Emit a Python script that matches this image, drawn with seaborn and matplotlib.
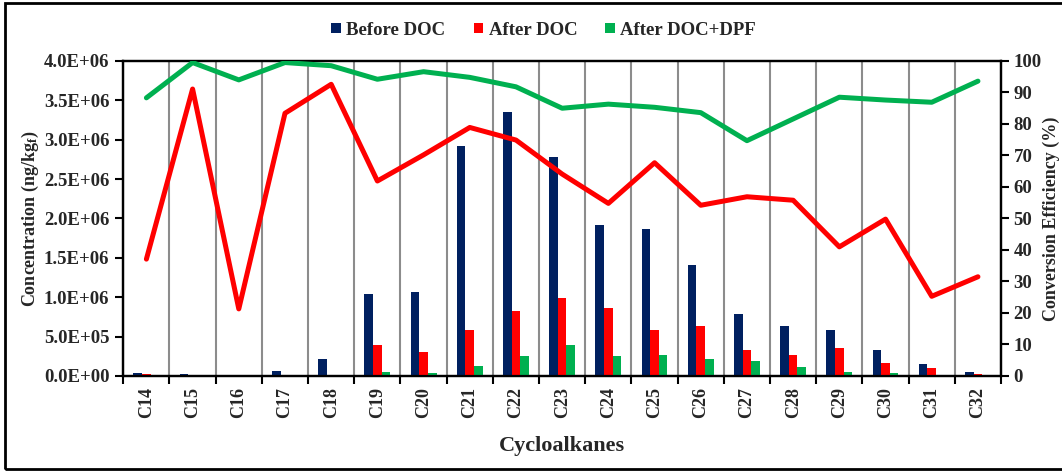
import numpy as np
import pandas as pd
import seaborn as sns
import matplotlib.pyplot as plt
from matplotlib.patches import Rectangle
from matplotlib.ticker import FixedLocator, FuncFormatter

# Dữ liệu
categories = ['C14', 'C15', 'C16', 'C17', 'C18', 'C19', 'C20', 'C21', 'C22', 'C23',
              'C24', 'C25', 'C26', 'C27', 'C28', 'C29', 'C30', 'C31', 'C32']
before_doc = [3.4e4, 2.0e4, 2.0e3, 6.3e4, 2.1e5, 1.04e6, 1.07e6, 2.92e6, 3.35e6, 2.78e6,
              1.92e6, 1.87e6, 1.41e6, 7.9e5, 6.4e5, 5.9e5, 3.3e5, 1.5e5, 4.5e4]
after_doc = [2.1e4, 2.0e3, 1.6e3, 1.0e4, 1.6e4, 3.9e5, 3.06e5, 5.8e5, 8.3e5, 9.9e5,
             8.66e5, 5.8e5, 6.4e5, 3.3e5, 2.7e5, 3.5e5, 1.6e5, 1.0e5, 3.0e4]
after_dpf = [4.0e3, 1.0e2, 1.0e2, 1.0e3, 3.0e3, 5.5e4, 3.5e4, 1.3e5, 2.5e5, 3.9e5,
             2.5e5, 2.65e5, 2.1e5, 1.9e5, 1.15e5, 5.5e4, 3.5e4, 1.5e4, 3.0e3]
eff_doc = [37.1, 91.1, 21.3, 83.4, 92.6, 61.9, 70.2, 78.9, 74.9, 64.1,
           54.8, 67.7, 54.2, 56.9, 55.8, 41.0, 49.8, 25.3, 31.5]
eff_dpf = [88.3, 99.5, 94.0, 99.5, 98.5, 94.2, 96.6, 94.8, 91.8, 85.0,
           86.3, 85.3, 83.6, 74.7, 81.6, 88.5, 87.6, 86.9, 93.6]

series_names = ['Before DOC', 'After DOC', 'After DOC+DPF']
colors = ['#002060', '#FF0000', '#00B050']

df = pd.DataFrame({
    'cat': categories * 3,
    'conc': before_doc + after_doc + after_dpf,
    'series': np.repeat(series_names, len(categories)),
})

sns.set_theme(style='white')
plt.rcParams['font.family'] = ['Liberation Serif', 'DejaVu Serif']
plt.rcParams['font.weight'] = 'bold'
plt.rcParams['mathtext.fontset'] = 'custom'
plt.rcParams['mathtext.rm'] = 'Liberation Serif:bold'
plt.rcParams['mathtext.it'] = 'Liberation Serif:bold'
plt.rcParams['mathtext.bf'] = 'Liberation Serif:bold'

fig = plt.figure(figsize=(10.62, 4.72), dpi=100)
ax = fig.add_axes([0.1161, 0.2034, 0.8265, 0.6674])

sns.barplot(data=df, x='cat', y='conc', hue='series', palette=colors,
            width=0.56, gap=0, ax=ax, zorder=3, saturation=1, linewidth=0)

n = len(categories)
ax.set_xlim(-0.5, n - 0.5)
ax.set_ylim(0, 4.0e6)
ax.set_yticks(np.arange(0, 4.01e6, 5e5))
ax.yaxis.set_major_formatter(FuncFormatter(lambda v, p: f'{v:.1E}'))

# đường kẻ dọc ở ranh giới các nhóm
ax.xaxis.set_minor_locator(FixedLocator(np.arange(-0.5, n, 1.0)))
ax.grid(which='minor', axis='x', color='#8c8c8c', linewidth=1.5, zorder=0)
ax.grid(which='major', visible=False)
ax.tick_params(axis='x', which='major', length=0, pad=8, labelsize=13, rotation=90)
ax.tick_params(axis='x', which='minor', length=6, width=1.5, color='black', direction='out', bottom=True)
ax.tick_params(axis='y', length=6, width=1.5, color='black', direction='out', left=True, labelsize=13.5, pad=4)
for lab in ax.get_xticklabels():
    lab.set_fontweight('bold')

for side in ['left', 'right', 'top', 'bottom']:
    ax.spines[side].set_color('black')
    ax.spines[side].set_linewidth(1.6)

ax.set_xlabel('Cycloalkanes', fontsize=16, fontweight='bold', labelpad=13)
ax.set_ylabel('Concentration (ng/kg$_\\mathrm{f}$)', fontsize=13, fontweight='bold', labelpad=2)

# trục phải - hiệu suất chuyển đổi
ax2 = ax.twinx()
x_pos = np.arange(n)
sns.lineplot(x=x_pos, y=eff_doc, color='#FF0000', linewidth=3.6, ax=ax2, zorder=5)
sns.lineplot(x=x_pos, y=eff_dpf, color='#00B050', linewidth=3.6, ax=ax2, zorder=5)
ax2.set_ylim(0, 100)
ax2.set_yticks(np.arange(0, 101, 10))
ax2.tick_params(axis='y', length=6, width=1.5, color='black', direction='out', right=True, labelsize=13.5, pad=3)
ax2.set_ylabel('Conversion Efficiency (%)', fontsize=13, fontweight='bold', labelpad=1)
ax2.grid(False)
for side in ['left', 'right', 'top', 'bottom']:
    ax2.spines[side].set_color('black')
    ax2.spines[side].set_linewidth(1.6)

# chú thích ở trên cùng
handles, labels = ax.get_legend_handles_labels()
if ax.legend_:
    ax.legend_.remove()
fig.legend(handles, labels, loc='center', bbox_to_anchor=(0.512, 0.936), ncol=3,
           frameon=False, prop={'weight': 'bold', 'size': 13.5},
           handlelength=0.5, handleheight=0.5, handletextpad=0.3, columnspacing=1.5)

# khung viền ngoài (cạnh phải nằm ngoài ảnh)
fig.patches.append(Rectangle((5 / 1062, 3 / 472), 1.0, 466 / 472, transform=fig.transFigure,
                             fill=False, edgecolor='black', linewidth=2, zorder=10))

plt.savefig('out.png', dpi=100)
